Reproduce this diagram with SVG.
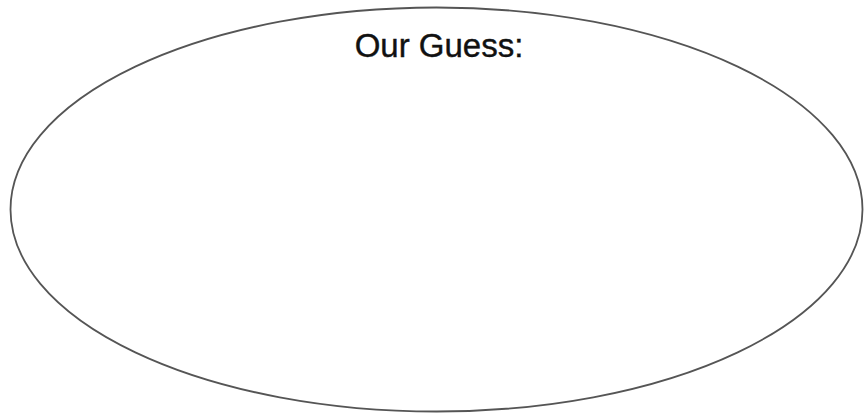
<svg xmlns="http://www.w3.org/2000/svg" width="864" height="415" viewBox="0 0 864 415">
<style>
.shape{fill:none;stroke:#555;stroke-width:1.8}
.label{font-family:"Liberation Sans",Arial,sans-serif;font-size:33px;fill:#111;stroke:#111;stroke-width:0.4}
</style>
<rect width="864" height="415" fill="#fff"/>
<g id="guess">
<ellipse class="shape" cx="436.5" cy="209.5" rx="426" ry="202"/>
<text class="label" x="439" y="57" text-anchor="middle">Our Guess:</text>
</g>
</svg>
